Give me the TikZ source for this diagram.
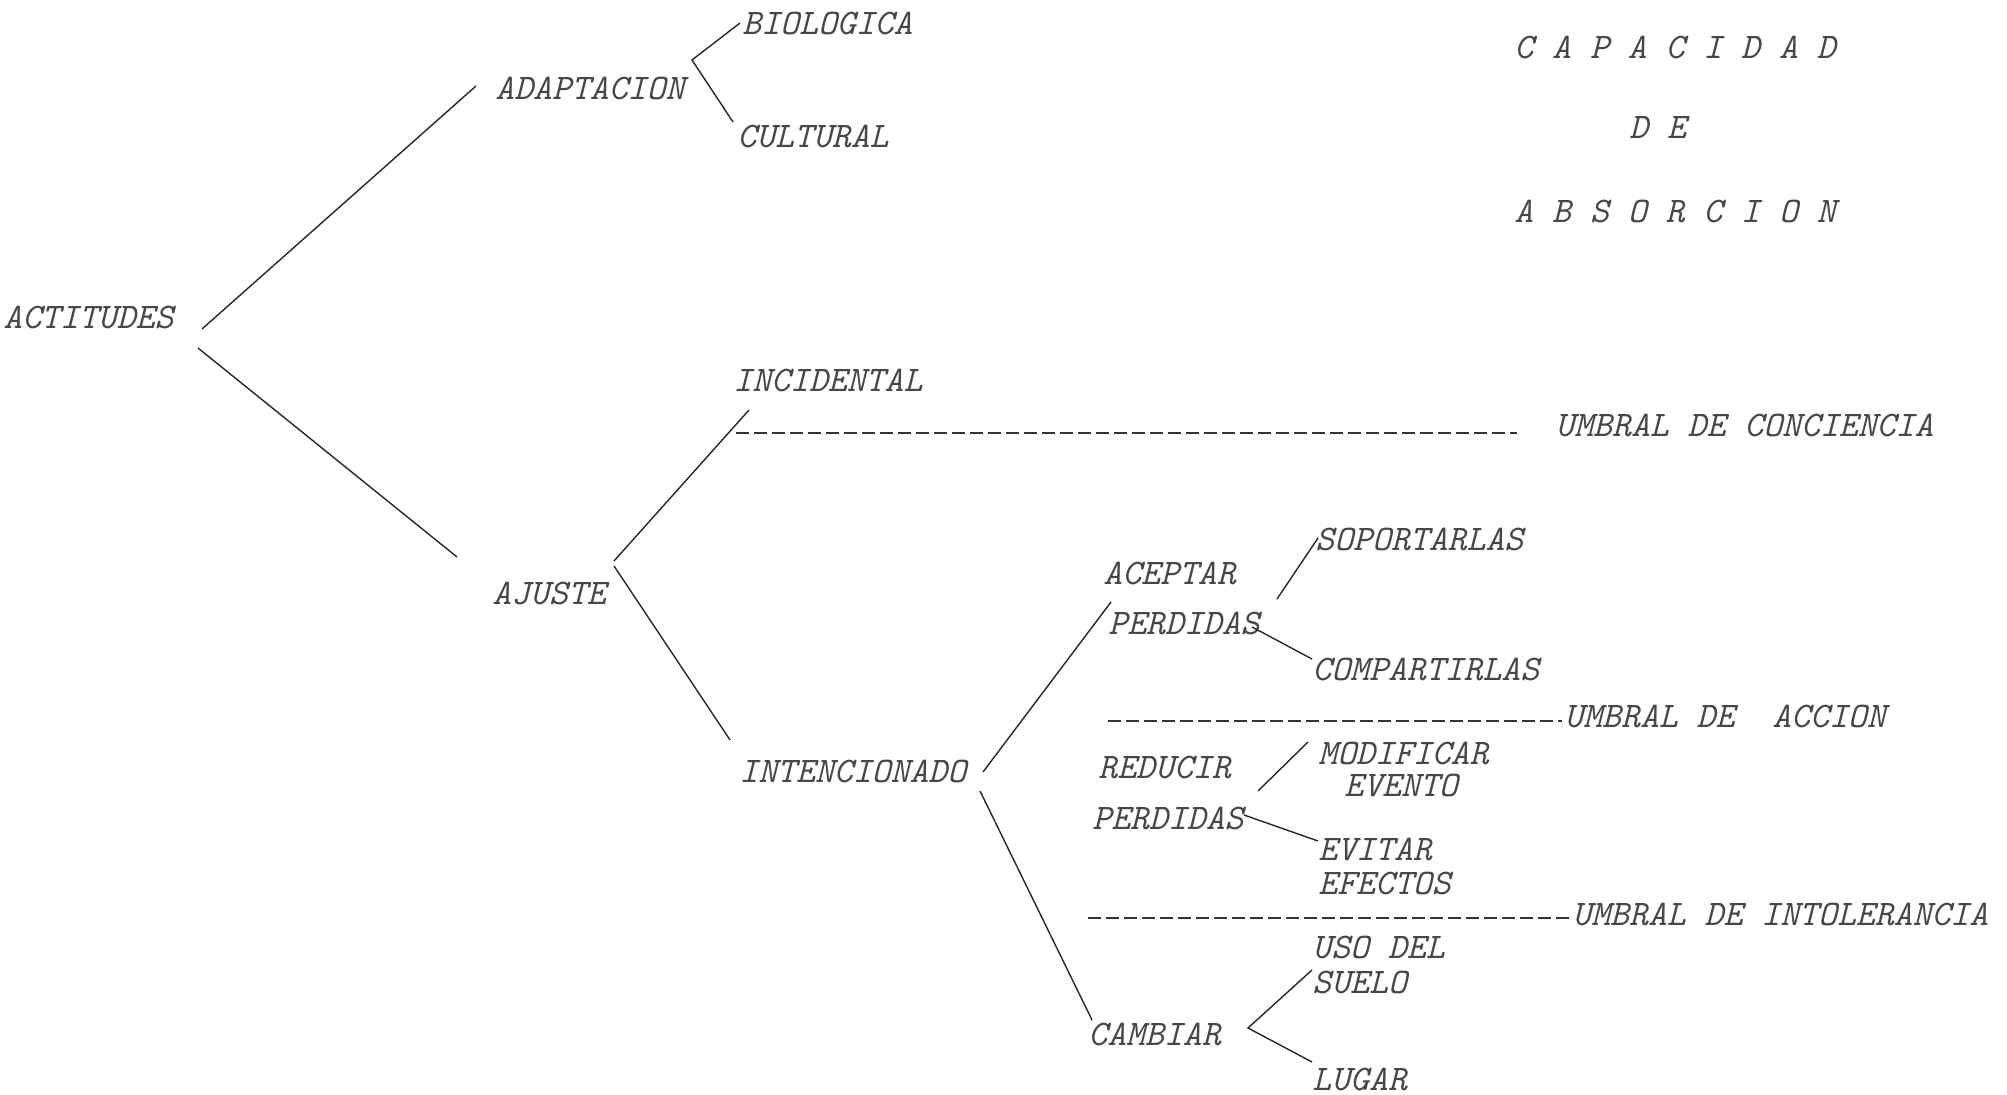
\documentclass[tikz,border=0pt]{standalone}
\usepackage{fontspec}
\begin{document}
\begin{tikzpicture}[x=0.5pt,y=-0.5pt,
  lbl/.style={anchor=west,inner sep=0pt,text=black!72,font=\ttfamily\itshape\fontsize{18}{19}\selectfont},
  conn/.style={draw=black!85,line width=0.7pt},
  thresh/.style={draw=black!80,line width=0.8pt,dash pattern=on 6.5pt off 2.5pt}]
\useasboundingbox (0,0) rectangle (2007,1095);
% labels
\node[lbl] (actitudes) at (3,317) {ACTITUDES};
\node[lbl] (adaptacion) at (495,88) {ADAPTACION};
\node[lbl] (biologica) at (742,23) {BIOLOGICA};
\node[lbl] (cultural) at (737,136) {CULTURAL};
\node[lbl] (capacidad) at (1514,47) {C A P A C I D A D};
\node[lbl] (de) at (1629,128) {D E};
\node[lbl] (absorcion) at (1514,211) {A B S O R C I O N};
\node[lbl] (incidental) at (733,380) {INCIDENTAL};
\node[lbl] (uconc) at (1555,425) {UMBRAL DE CONCIENCIA};
\node[lbl] (ajuste) at (492,593) {AJUSTE};
\node[lbl] (intencionado) at (739,771) {INTENCIONADO};
\node[lbl] (aceptar) at (1103,573) {ACEPTAR};
\node[lbl] (perdidasA) at (1108,623) {PERDIDAS};
\node[lbl] (soportarlas) at (1315,539) {SOPORTARLAS};
\node[lbl] (compartirlas) at (1312,669) {COMPARTIRLAS};
\node[lbl] (uaccion) at (1564,716) {UMBRAL DE\ \ ACCION};
\node[lbl] (reducir) at (1098,768) {REDUCIR};
\node[lbl] (perdidasB) at (1092,818) {PERDIDAS};
\node[lbl] (modificar) at (1318,753) {MODIFICAR};
\node[lbl] (evento) at (1344,786) {EVENTO};
\node[lbl] (evitar) at (1318,849) {EVITAR};
\node[lbl] (efectos) at (1318,883) {EFECTOS};
\node[lbl] (uintol) at (1572,914) {UMBRAL DE INTOLERANCIA};
\node[lbl] (uso) at (1312,947) {USO DEL};
\node[lbl] (suelo) at (1312,982) {SUELO};
\node[lbl] (cambiar) at (1088,1034) {CAMBIAR};
\node[lbl] (lugar) at (1312,1079) {LUGAR};
% connector end points
\coordinate (actU) at (202,329);
\coordinate (actD) at (198,348);
\coordinate (adaIn) at (476,86);
\coordinate (ajuIn) at (457,557);
\coordinate (adaFork) at (692,60);
\coordinate (bioIn) at (740,23);
\coordinate (culIn) at (733,122);
\coordinate (ajuU) at (614,561);
\coordinate (ajuD) at (614,566);
\coordinate (incIn) at (749,410);
\coordinate (intIn) at (730,740);
\coordinate (intU) at (983,772);
\coordinate (intD) at (980,791);
\coordinate (aceIn) at (1111,602);
\coordinate (camIn) at (1092,1020);
\coordinate (perAU) at (1277,599);
\coordinate (sopIn) at (1318,538);
\coordinate (perAD) at (1252,627);
\coordinate (comIn) at (1312,659);
\coordinate (perBU) at (1258,791);
\coordinate (modIn) at (1308,742);
\coordinate (perBD) at (1244,815);
\coordinate (eviIn) at (1318,841);
\coordinate (camFork) at (1248,1028);
\coordinate (usoIn) at (1312,970);
\coordinate (lugIn) at (1312,1062);
% connectors
\draw[conn] (actU) -- (adaIn);
\draw[conn] (actD) -- (ajuIn);
\draw[conn] (bioIn) -- (adaFork) -- (culIn);
\draw[conn] (ajuU) -- (incIn);
\draw[conn] (ajuD) -- (intIn);
\draw[conn] (intU) -- (aceIn);
\draw[conn] (intD) -- (camIn);
\draw[conn] (perAU) -- (sopIn);
\draw[conn] (perAD) -- (comIn);
\draw[conn] (perBU) -- (modIn);
\draw[conn] (perBD) -- (eviIn);
\draw[conn] (usoIn) -- (camFork) -- (lugIn);
% thresholds
\coordinate (t1a) at (736,433);
\coordinate (t1b) at (1517,433);
\coordinate (t2a) at (1108,721);
\coordinate (t2b) at (1562,721);
\coordinate (t3a) at (1088,918);
\coordinate (t3b) at (1569,918);
\draw[thresh] (t1a) -- (t1b);
\draw[thresh] (t2a) -- (t2b);
\draw[thresh] (t3a) -- (t3b);
\end{tikzpicture}
\end{document}
